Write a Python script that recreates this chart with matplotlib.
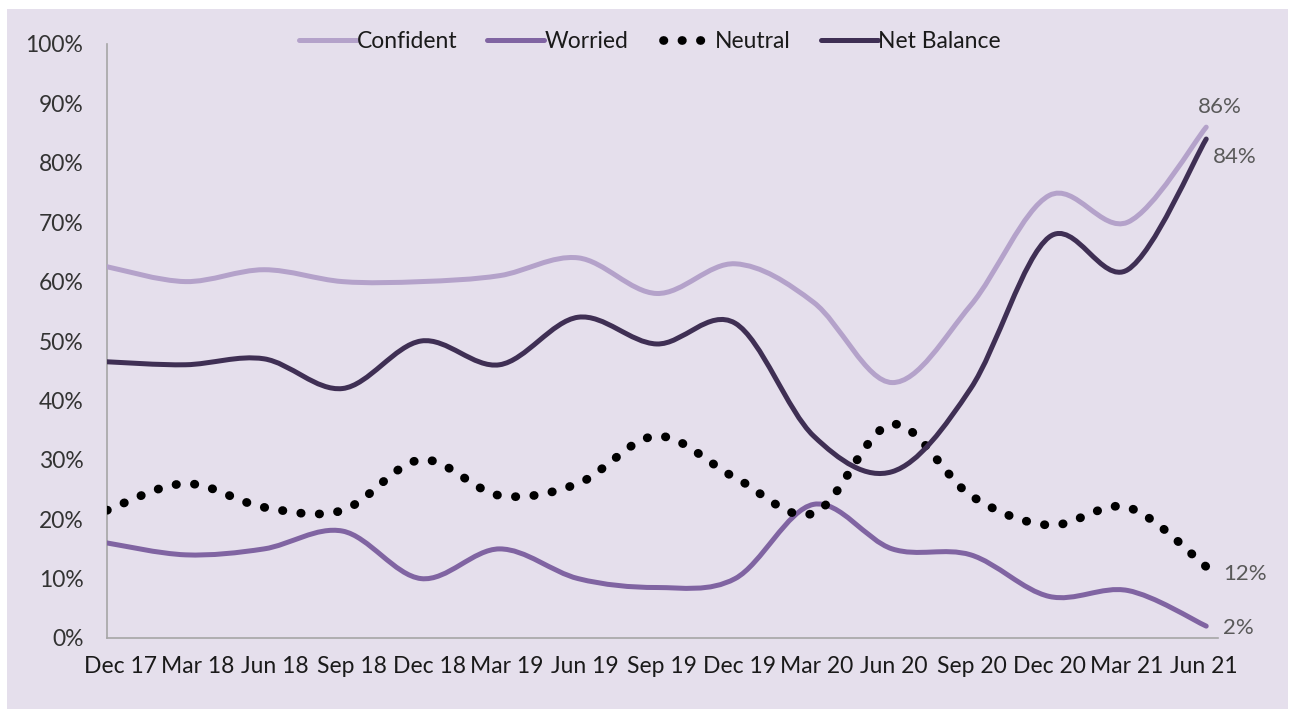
import matplotlib
matplotlib.use("Agg")
import matplotlib.pyplot as plt
from matplotlib.path import Path
from matplotlib.patches import PathPatch, Rectangle
from matplotlib.lines import Line2D

plt.rcParams['font.family'] = ['Lato', 'DejaVu Sans']

categories = ["Dec 17", "Mar 18", "Jun 18", "Sep 18", "Dec 18", "Mar 19", "Jun 19",
              "Sep 19", "Dec 19", "Mar 20", "Jun 20", "Sep 20", "Dec 20", "Mar 21", "Jun 21"]
confident = [62.5, 60, 62, 60, 60, 61, 64, 58, 63, 56.5, 43, 56, 74.5, 70, 86]
worried = [16, 14, 15, 18, 10, 15, 10, 8.5, 10, 22.5, 15, 14, 7, 8, 2]
neutral = [21.5, 26, 22, 21.5, 30, 24, 26, 34, 27, 21, 36, 24, 19, 22, 12]
net_balance = [46.5, 46, 47, 42, 50, 46, 54, 49.5, 53, 34, 28, 42, 67.5, 62, 84]
yticks = [0, 10, 20, 30, 40, 50, 60, 70, 80, 90, 100]
end_labels = {"Confident": "86%", "Net Balance": "84%", "Neutral": "12%", "Worried": "2%"}

BG = "#E5DFEC"
C_CONF = "#B4A2CA"
C_WOR = "#8064A2"
C_NET = "#3F2F54"

W, H = 1289, 709
fig = plt.figure(figsize=(W / 100, H / 100), dpi=100, facecolor="white")
fig.patches.append(Rectangle((7 / W, 0), (1288 - 7) / W, (709 - 9) / H,
                             transform=fig.transFigure, facecolor=BG,
                             edgecolor="none", zorder=-10))

left, right = 107 / W, 1218 / W
bottom, top = (709 - 638) / H, (709 - 44) / H
ax = fig.add_axes([left, bottom, right - left, top - bottom])
ax.set_facecolor("none")


def smooth_path(xs, ys):
    pts = list(zip(xs, ys))
    n = len(pts)
    verts = [pts[0]]
    codes = [Path.MOVETO]
    for i in range(n - 1):
        p0 = pts[i - 1] if i > 0 else pts[i]
        p1 = pts[i]
        p2 = pts[i + 1]
        p3 = pts[i + 2] if i + 2 < n else pts[i + 1]
        c1 = (p1[0] + (p2[0] - p0[0]) / 6, p1[1] + (p2[1] - p0[1]) / 6)
        c2 = (p2[0] - (p3[0] - p1[0]) / 6, p2[1] - (p3[1] - p1[1]) / 6)
        verts += [c1, c2, p2]
        codes += [Path.CURVE4] * 3
    return Path(verts, codes)


DOT_LW = 6.3
DOTS = (0.05, 2.06)
xs = list(range(len(categories)))
series = [
    ("Confident", confident, dict(color=C_CONF, lw=3.6, ls="-", hls="-")),
    ("Worried", worried, dict(color=C_WOR, lw=3.6, ls="-", hls="-")),
    ("Neutral", neutral, dict(color="black", lw=DOT_LW, ls=(0, DOTS), hls=(1.54, DOTS))),
    ("Net Balance", net_balance, dict(color=C_NET, lw=3.6, ls="-", hls="-")),
]
handles = []
for name, vals, st in series:
    patch = PathPatch(smooth_path(xs, vals), facecolor="none", edgecolor=st["color"],
                      lw=st["lw"], linestyle=st["ls"], capstyle="round",
                      joinstyle="round", zorder=3)
    ax.add_patch(patch)
    h = Line2D([], [], color=st["color"], lw=st["lw"], linestyle=st["hls"],
               solid_capstyle="round", dash_capstyle="round")
    handles.append(h)

ax.set_xlim(0, len(categories) - 1 + 0.15)
ax.set_ylim(0, 100)
ax.set_yticks(yticks)
ax.set_yticklabels([f"{t}%" for t in yticks], fontsize=16.5, color="#333333")
# category labels are spread slightly tighter than the points in the reference
ax.set_xticks([0.166 + 0.986 * i for i in xs])
ax.set_xticklabels(categories, fontsize=16.5, color="#1a1a1a")
ax.tick_params(length=0)
ax.tick_params(axis="x", pad=13)
ax.tick_params(axis="y", pad=17)
for s in ["top", "right"]:
    ax.spines[s].set_visible(False)
for s in ["left", "bottom"]:
    ax.spines[s].set_color("#A6A6A6")
    ax.spines[s].set_linewidth(1.2)

# end labels
last = len(categories) - 1
lab_kw = dict(textcoords="offset points", fontsize=16, color="#595959")
ax.annotate(end_labels["Confident"], (last, confident[-1]), xytext=(10, 7),
            ha="center", va="bottom", **lab_kw)
ax.annotate(end_labels["Net Balance"], (last, net_balance[-1]), xytext=(5, -6),
            ha="left", va="top", **lab_kw)
ax.annotate(end_labels["Neutral"], (last, neutral[-1]), xytext=(12, -5),
            ha="left", va="center", **lab_kw)
ax.annotate(end_labels["Worried"], (last, worried[-1]), xytext=(12, -1),
            ha="left", va="center", **lab_kw)

leg = fig.legend(handles, [s[0] for s in series], ncol=4, loc="center",
                 bbox_to_anchor=(650 / W, 1 - 42 / H), frameon=False,
                 fontsize=16.5, handlelength=2.5, handletextpad=0.0,
                 columnspacing=1.3, labelcolor="#1a1a1a")

fig.savefig("out.png", dpi=100, facecolor="white")
